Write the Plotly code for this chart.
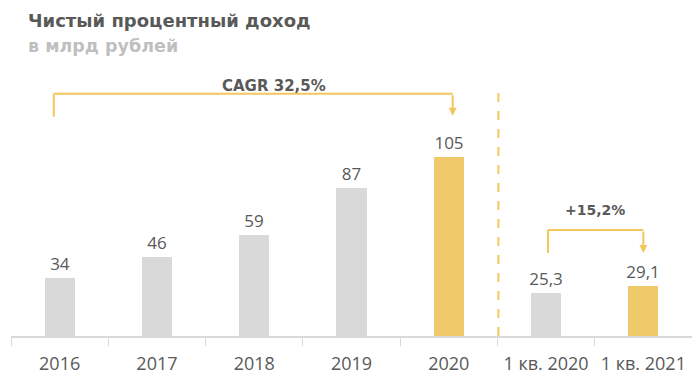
import plotly.graph_objects as go

categories = ["2016", "2017", "2018", "2019", "2020", "1 кв. 2020", "1 кв. 2021"]
values = [34, 46, 59, 87, 105, 25.3, 29.1]
labels = ["34", "46", "59", "87", "105", "25,3", "29,1"]
highlight = [False, False, False, False, True, False, True]

GOLD = "#F0C96A"
LINE_GOLD = "#F2C75C"
GREY = "#D9D9D9"
TXT = "#595959"

colors = [GOLD if h else GREY for h in highlight]

# page body has an 8px margin, so the figure is offset by 8px
OFF = 8
W, H = 700 - OFF, 389 - OFF
L, R, T, B = 11 - OFF, 8, 80 - OFF, 53

fig = go.Figure(go.Bar(
    x=categories, y=values, text=labels, textposition="outside",
    marker=dict(color=colors, line=dict(width=0)),
    width=0.31, cliponaxis=False, constraintext="none",
    textfont=dict(family="Open Sans", size=17, color=TXT),
))

fig.update_layout(
    width=W, height=H,
    margin=dict(l=L, r=R, t=T, b=B),
    plot_bgcolor="white", paper_bgcolor="white",
    showlegend=False,
    xaxis=dict(type="category", showline=True, linecolor=GREY, linewidth=1.5,
               ticks="outside", tickson="boundaries", tickcolor=GREY, ticklen=8,
               tickwidth=1, showgrid=False, ticklabelstandoff=11,
               tickfont=dict(family="Open Sans", size=18, color=TXT)),
    yaxis=dict(range=[0, 150], visible=False, showgrid=False),
    bargap=0,
)

def yv(px):
    # px given in reference-screenshot pixels
    return (336 - px) / 1.705

shapes = []
shapes.append(dict(type="line", xref="x", yref="y", x0=-0.06, x1=-0.06, y0=yv(117), y1=yv(94),
                   line=dict(color=LINE_GOLD, width=2)))
shapes.append(dict(type="line", xref="x", yref="y", x0=-0.06, x1=4.04, y0=yv(94), y1=yv(94),
                   line=dict(color=LINE_GOLD, width=2)))
shapes.append(dict(type="line", xref="x", yref="y", x0=5.02, x1=5.02, y0=yv(253), y1=yv(230),
                   line=dict(color=LINE_GOLD, width=2)))
shapes.append(dict(type="line", xref="x", yref="y", x0=5.02, x1=6.0, y0=yv(230), y1=yv(230),
                   line=dict(color=LINE_GOLD, width=2)))
shapes.append(dict(type="line", xref="x", yref="y", x0=4.51, x1=4.51, y0=0, y1=yv(92),
                   line=dict(color=LINE_GOLD, width=2, dash="dash")))
fig.update_layout(shapes=shapes)

def px_to_paper(px, py):
    fx, fy = px - OFF, py - OFF
    return (fx - L) / (W - L - R), (H - B - fy) / (H - T - B)

tx, ty = px_to_paper(26, 20)
sx, sy = px_to_paper(26, 46)

annotations = [
    dict(x=4.04, y=yv(116), ax=4.04, ay=yv(94), xref="x", yref="y", axref="x", ayref="y",
         showarrow=True, arrowhead=2, arrowsize=0.8, arrowwidth=2, arrowcolor=LINE_GOLD, text=""),
    dict(x=6.0, y=yv(253), ax=6.0, ay=yv(230), xref="x", yref="y", axref="x", ayref="y",
         showarrow=True, arrowhead=2, arrowsize=0.8, arrowwidth=2, arrowcolor=LINE_GOLD, text=""),
    dict(x=2.2, y=yv(86), xref="x", yref="y", text="<b>CAGR 32,5%</b>", showarrow=False,
         font=dict(family="DejaVu Sans", size=15, color=TXT)),
    dict(x=5.5, y=yv(210), xref="x", yref="y", text="<b>+15,2%</b>", showarrow=False,
         font=dict(family="DejaVu Sans", size=14, color=TXT)),
    dict(x=tx, y=ty, xref="paper", yref="paper", text="<b>Чистый процентный доход</b>",
         showarrow=False, xanchor="left", yanchor="middle",
         font=dict(family="DejaVu Sans", size=18, color=TXT)),
    dict(x=sx, y=sy, xref="paper", yref="paper", text="<b>в млрд рублей</b>",
         showarrow=False, xanchor="left", yanchor="middle",
         font=dict(family="DejaVu Sans", size=17.5, color="#BFBFBF")),
]
fig.update_layout(annotations=annotations)

fig.write_html("out.html")
